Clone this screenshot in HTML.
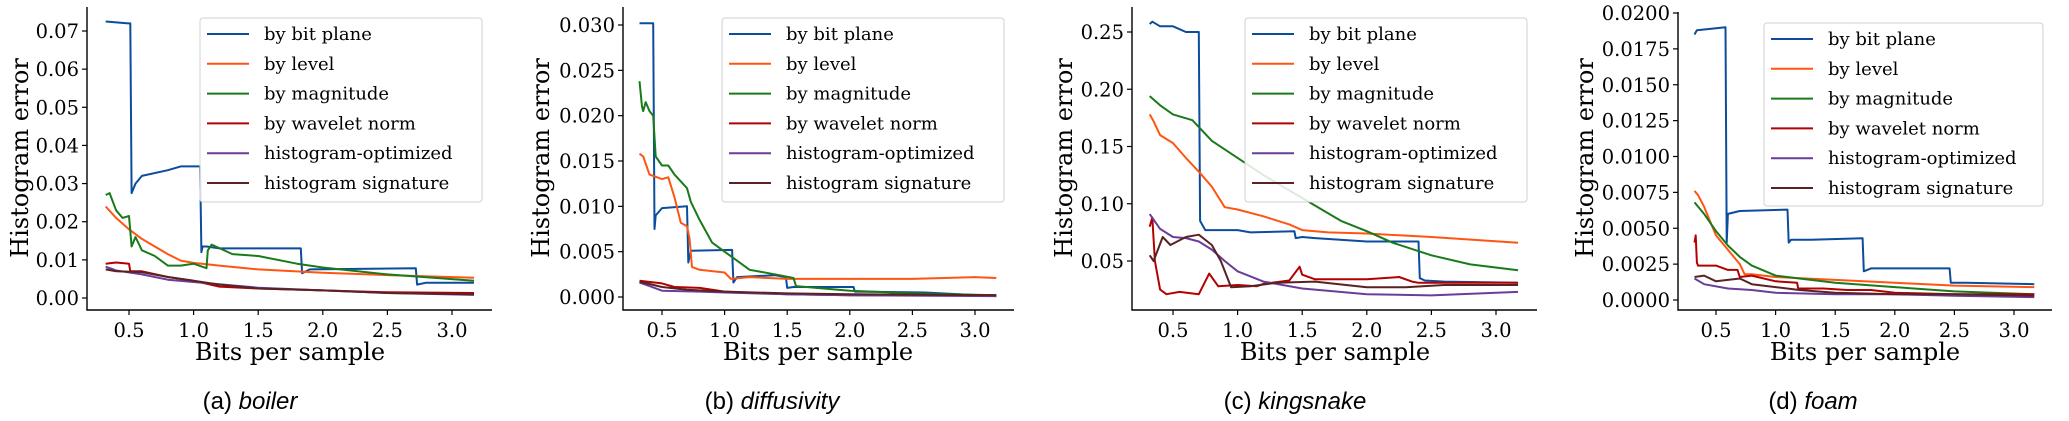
<!DOCTYPE html>
<html><head><meta charset="utf-8">
<style>
body{margin:0;background:#fff;}
svg{display:block;}
text{font-family:"DejaVu Serif","Liberation Serif",serif;fill:#000;}
.cap{font-family:"Liberation Sans",sans-serif;font-size:24px;}
</style></head>
<body>
<svg id="fig" width="2069" height="421" viewBox="0 0 2069 421"></svg>
<script>
// ---------- Panel (a) boiler ----------
const aBitX=[0.32,0.5,0.51,0.52,0.55,0.6,0.8,0.9,1.05,1.06,1.07,1.1,1.2,1.83,1.84,1.9,2.72,2.73,2.8,3.17];
const aBitY=[0.0725,0.072,0.072,0.0275,0.030,0.032,0.0335,0.0345,0.0345,0.012,0.0135,0.0135,0.013,0.013,0.0065,0.0075,0.0078,0.0035,0.004,0.004];
const aLevX=[0.32,0.4,0.5,0.6,0.7,0.8,0.9,1.0,1.2,1.5,2.0,2.5,3.17];
const aLevY=[0.024,0.021,0.018,0.0155,0.0135,0.0115,0.0098,0.0092,0.0085,0.0075,0.0066,0.006,0.0053];
const aMagX=[0.32,0.35,0.4,0.45,0.5,0.52,0.55,0.6,0.7,0.8,0.9,1.0,1.1,1.11,1.14,1.3,1.5,1.8,2.0,2.5,3.17];
const aMagY=[0.027,0.0275,0.023,0.021,0.0215,0.0135,0.016,0.0125,0.011,0.0085,0.0085,0.009,0.0078,0.0125,0.014,0.0115,0.011,0.009,0.008,0.0062,0.0045];
const aWavX=[0.32,0.4,0.5,0.51,0.6,0.8,1.0,1.2,1.5,2.0,2.5,3.17];
const aWavY=[0.009,0.0093,0.009,0.007,0.007,0.0055,0.0045,0.003,0.0025,0.002,0.0015,0.0013];
const aOptX=[0.32,0.4,0.6,0.8,1.0,1.5,2.0,2.5,3.17];
const aOptY=[0.0082,0.0072,0.0062,0.0048,0.0042,0.0027,0.002,0.0013,0.0008];
const aSigX=[0.32,0.4,0.6,0.8,1.0,1.2,1.5,2.0,2.5,3.17];
const aSigY=[0.0075,0.007,0.0068,0.0055,0.0045,0.0035,0.0025,0.002,0.0013,0.001];
const aYTicks=[0,0.01,0.02,0.03,0.04,0.05,0.06,0.07];
const aYLabels=["0.00","0.01","0.02","0.03","0.04","0.05","0.06","0.07"];
// ---------- Panel (b) diffusivity ----------
const bBitX=[0.32,0.43,0.44,0.45,0.5,0.7,0.71,0.73,1.06,1.07,1.1,1.4,1.49,1.5,1.55,2.03,2.04,2.6,3.17];
const bBitY=[0.0302,0.0302,0.0075,0.009,0.0098,0.01,0.0038,0.0051,0.0052,0.0016,0.0022,0.0024,0.0022,0.001,0.0011,0.0011,0.0006,0.0005,0.0001];
const bLevX=[0.32,0.35,0.4,0.5,0.55,0.6,0.65,0.7,0.72,0.74,0.8,1.0,1.05,1.2,1.5,2.0,2.5,3.0,3.17];
const bLevY=[0.0158,0.0155,0.0135,0.013,0.0132,0.011,0.0082,0.0078,0.0065,0.0033,0.003,0.0027,0.002,0.0022,0.002,0.002,0.002,0.0022,0.0021];
const bMagX=[0.32,0.34,0.35,0.37,0.4,0.43,0.45,0.5,0.55,0.6,0.7,0.73,0.8,0.9,1.0,1.1,1.2,1.4,1.55,1.57,2.0,2.5,3.17];
const bMagY=[0.0238,0.021,0.0205,0.0215,0.0205,0.02,0.0155,0.0145,0.0145,0.0135,0.012,0.0105,0.0085,0.006,0.005,0.004,0.003,0.0025,0.0021,0.0012,0.0007,0.0004,0.0002];
const bWavX=[0.32,0.5,0.6,0.8,1.0,1.5,2.0,3.17];
const bWavY=[0.0018,0.0015,0.0011,0.001,0.0006,0.0003,0.0002,0.0002];
const bOptX=[0.32,0.4,0.5,0.8,1.0,1.5,2.0,3.17];
const bOptY=[0.0016,0.0012,0.0007,0.0006,0.0005,0.0003,0.0002,0.0001];
const bSigX=[0.32,0.5,0.7,1.0,1.5,2.0,3.17];
const bSigY=[0.0017,0.0011,0.0008,0.0006,0.0004,0.0003,0.0002];
const bYTicks=[0,0.005,0.01,0.015,0.02,0.025,0.03];
const bYLabels=["0.000","0.005","0.010","0.015","0.020","0.025","0.030"];
// ---------- Panel (c) kingsnake ----------
const cBitX=[0.32,0.34,0.4,0.5,0.6,0.7,0.71,0.72,0.75,0.8,1.0,1.1,1.44,1.45,1.5,1.6,2.0,2.4,2.41,2.45,2.6,3.17];
const cBitY=[0.257,0.259,0.255,0.255,0.25,0.25,0.085,0.083,0.077,0.077,0.077,0.075,0.076,0.07,0.071,0.07,0.067,0.067,0.035,0.033,0.032,0.031];
const cLevX=[0.32,0.35,0.4,0.5,0.6,0.7,0.8,0.9,1.0,1.2,1.4,1.5,1.7,2.0,2.5,3.17];
const cLevY=[0.178,0.172,0.16,0.153,0.14,0.128,0.115,0.097,0.095,0.089,0.082,0.077,0.075,0.074,0.071,0.066];
const cMagX=[0.32,0.4,0.5,0.65,0.8,1.0,1.2,1.5,1.8,2.0,2.2,2.5,2.8,3.17];
const cMagY=[0.194,0.186,0.178,0.173,0.155,0.14,0.125,0.105,0.085,0.076,0.066,0.055,0.047,0.042];
const cWavX=[0.32,0.34,0.36,0.4,0.45,0.55,0.7,0.78,0.85,1.0,1.15,1.2,1.4,1.48,1.5,1.6,2.0,2.25,2.35,2.4,3.17];
const cWavY=[0.08,0.088,0.05,0.025,0.021,0.023,0.021,0.039,0.028,0.029,0.028,0.030,0.033,0.045,0.038,0.034,0.034,0.036,0.032,0.031,0.031];
const cOptX=[0.32,0.4,0.5,0.6,0.7,0.8,0.9,1.0,1.2,1.5,2.0,2.5,3.17];
const cOptY=[0.091,0.078,0.071,0.07,0.067,0.06,0.05,0.041,0.032,0.026,0.021,0.02,0.023];
const cSigX=[0.32,0.35,0.42,0.48,0.6,0.7,0.8,0.87,0.95,1.1,1.3,1.6,2.0,2.3,2.6,3.17];
const cSigY=[0.055,0.05,0.071,0.064,0.071,0.073,0.064,0.05,0.027,0.028,0.031,0.032,0.027,0.027,0.029,0.029];
const cYTicks=[0.05,0.1,0.15,0.2,0.25];
const cYLabels=["0.05","0.10","0.15","0.20","0.25"];
// ---------- Panel (d) foam ----------
const dBitX=[0.32,0.34,0.58,0.59,0.6,0.7,1.1,1.11,1.13,1.3,1.73,1.74,1.8,2.46,2.47,2.6,3.17];
const dBitY=[0.0185,0.0188,0.019,0.004,0.006,0.0062,0.0063,0.004,0.0042,0.0042,0.0043,0.002,0.0022,0.0022,0.0012,0.0012,0.0011];
const dLevX=[0.32,0.35,0.4,0.45,0.5,0.6,0.7,0.74,0.8,1.0,1.5,2.0,2.5,3.17];
const dLevY=[0.0076,0.0073,0.0065,0.0055,0.0045,0.0035,0.0025,0.0018,0.0018,0.0016,0.0014,0.0012,0.001,0.0009];
const dMagX=[0.32,0.4,0.5,0.6,0.7,0.8,1.0,1.2,1.5,2.0,2.5,3.17];
const dMagY=[0.0068,0.006,0.0048,0.0038,0.003,0.0024,0.0017,0.0015,0.0012,0.0009,0.0006,0.0004];
const dWavX=[0.32,0.33,0.34,0.35,0.5,0.6,0.68,0.7,0.8,1.0,1.18,1.19,1.4,1.6,1.8,2.0,2.5,3.17];
const dWavY=[0.004,0.0045,0.0026,0.0024,0.0024,0.0021,0.0021,0.0016,0.0017,0.0013,0.0012,0.0008,0.0008,0.0007,0.0007,0.0005,0.0004,0.0004];
const dOptX=[0.32,0.4,0.6,0.8,1.0,1.5,2.0,2.5,3.17];
const dOptY=[0.0015,0.0011,0.0008,0.0007,0.0005,0.0004,0.0004,0.0003,0.0002];
const dSigX=[0.32,0.4,0.5,0.6,0.7,0.8,1.0,1.2,1.5,2.0,2.5,3.17];
const dSigY=[0.0016,0.0017,0.0013,0.0014,0.0015,0.0011,0.0009,0.0007,0.0005,0.0004,0.0004,0.0003];
const dYTicks=[0,0.0025,0.005,0.0075,0.01,0.0125,0.015,0.0175,0.02];
const dYLabels=["0.0000","0.0025","0.0050","0.0075","0.0100","0.0125","0.0150","0.0175","0.0200"];
// shared
const xTicks=[0.5,1.0,1.5,2.0,2.5,3.0];
const xTickLabels=["0.5","1.0","1.5","2.0","2.5","3.0"];
const seriesNames=["by bit plane","by level","by magnitude","by wavelet norm","histogram-optimized","histogram signature"];
const seriesColors=["#0b4c9c","#ff5512","#1a7a1a","#b30000","#6a3d9a","#5a2222"];

const NS="http://www.w3.org/2000/svg";
const svg=document.getElementById('fig');
function mk(tag,attrs,parent){const e=document.createElementNS(NS,tag);for(const k in attrs)e.setAttribute(k,attrs[k]);(parent||svg).appendChild(e);return e;}

const panels=[
 {id:"a",title:"boiler",series:[[aBitX,aBitY],[aLevX,aLevY],[aMagX,aMagY],[aWavX,aWavY],[aOptX,aOptY],[aSigX,aSigY]],yt:aYTicks,yl:aYLabels,
  L:87,R:492,T:7,B:310,x0:129,x1:452,y0v:0,y0p:298,y1v:0.07,y1p:31,lg:[200,18,282,184],ylx:20,xlc:290,capc:250},
 {id:"b",title:"diffusivity",series:[[bBitX,bBitY],[bLevX,bLevY],[bMagX,bMagY],[bWavX,bWavY],[bOptX,bOptY],[bSigX,bSigY]],yt:bYTicks,yl:bYLabels,
  L:623,R:1014,T:7,B:310,x0:662,x1:975,y0v:0,y0p:297,y1v:0.03,y1p:25,lg:[722,18,282,184],ylx:541,xlc:818,capc:772},
 {id:"c",title:"kingsnake",series:[[cBitX,cBitY],[cLevX,cLevY],[cMagX,cMagY],[cWavX,cWavY],[cOptX,cOptY],[cSigX,cSigY]],yt:cYTicks,yl:cYLabels,
  L:1132,R:1537,T:7,B:310,x0:1173,x1:1496,y0v:0.05,y0p:261,y1v:0.25,y1p:32,lg:[1245,18,282,184],ylx:1064,xlc:1335,capc:1295},
 {id:"d",title:"foam",series:[[dBitX,dBitY],[dLevX,dLevY],[dMagX,dMagY],[dWavX,dWavY],[dOptX,dOptY],[dSigX,dSigY]],yt:dYTicks,yl:dYLabels,
  L:1678,R:2052,T:12,B:310,x0:1716,x1:2014,y0v:0,y0p:300,y1v:0.02,y1p:13,lg:[1764,23,279,183],ylx:1585,xlc:1865,capc:1813}
];

panels.forEach(p=>{
  const g=mk('g',{});
  
  
  const sx=v=>p.x0+(v-0.5)*(p.x1-p.x0)/2.5;
  const sy=v=>p.y0p+(v-p.y0v)*(p.y1p-p.y0p)/(p.y1v-p.y0v);
  p.series.forEach((s,i)=>{
    const pts=s[0].map((x,j)=>sx(x).toFixed(1)+','+sy(s[1][j]).toFixed(1)).join(' ');
    const pl=mk('polyline',{points:pts,fill:'none',stroke:seriesColors[i],'stroke-width':2,'stroke-linejoin':'round'},g);
    
    
  });
  const ax=mk('path',{d:`M${p.L},${p.T}V${p.B}H${p.R}`,fill:'none',stroke:'#000','stroke-width':1.4},g);
  
  
  p.yt.forEach((v,i)=>{
    const y=sy(v);
    mk('line',{x1:p.L-5,x2:p.L,y1:y,y2:y,stroke:'#000','stroke-width':1.2},g);
    const t=mk('text',{x:p.L-8,y:y+7,'text-anchor':'end','font-size':19.5},g);
    t.textContent=p.yl[i];
    
    
  });
  xTicks.forEach((v,i)=>{
    const x=sx(v);
    mk('line',{x1:x,x2:x,y1:p.B,y2:p.B+5,stroke:'#000','stroke-width':1.2},g);
    const t=mk('text',{x:x,y:p.B+27,'text-anchor':'middle','font-size':19.5},g);
    t.textContent=xTickLabels[i];
    
    
  });
  const yt=mk('text',{x:p.ylx+8,y:158,'text-anchor':'middle','font-size':24,transform:`rotate(-90 ${p.ylx+8} 158)`},g);
  yt.textContent='Histogram error';
  
  
  const xt=mk('text',{x:p.xlc,y:360,'text-anchor':'middle','font-size':24},g);
  xt.textContent='Bits per sample';
  
  
  const [lx,ly,lw,lh]=p.lg;
  const lgG=mk('g',{},g);
  
  
  mk('rect',{x:lx,y:ly,width:lw,height:lh,rx:3,fill:'rgba(255,255,255,0.85)',stroke:'#d0d0d0','stroke-width':1},lgG);
  seriesNames.forEach((n,i)=>{
    const cy=ly+16+i*29.8;
    mk('line',{x1:lx+7,x2:lx+49,y1:cy,y2:cy,stroke:seriesColors[i],'stroke-width':2},lgG);
    const t=mk('text',{x:lx+64,y:cy+6,'font-size':18},lgG);
    t.textContent=n;
    
    
  });
  const cap=mk('text',{x:p.capc,y:409,'text-anchor':'middle',class:'cap'},g);
  cap.innerHTML=`(${p.id}) <tspan font-style="italic">${p.title}</tspan>`;
  
  
});
</script>
</body></html>
